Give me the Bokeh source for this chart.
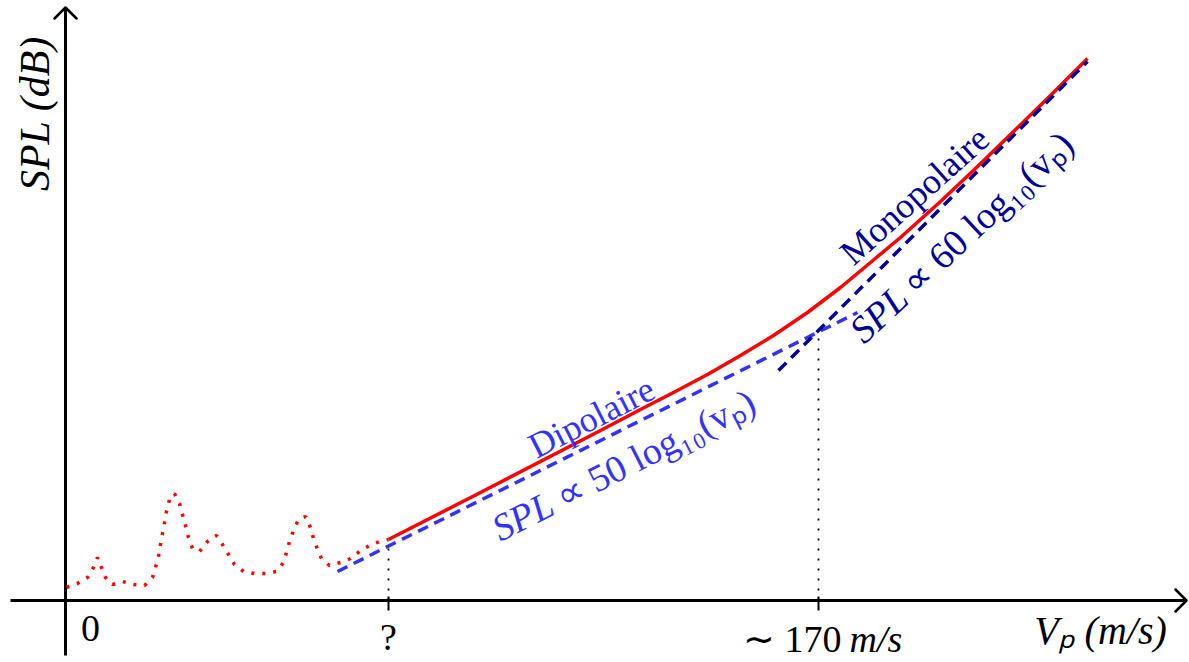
import math
from bokeh.plotting import figure
from bokeh.models import Range1d, Label
from bokeh.embed import file_html
from bokeh.resources import INLINE

# ---- data (1 unit = 1 px, origin where the axes cross) ----
noise_x = [1, 12, 22, 28, 32, 36, 40, 47, 57, 68, 79, 87, 90, 93, 95, 97, 99, 101, 104, 109,
           114, 117, 120, 123, 127, 134, 142, 151, 157, 163, 169, 178, 189, 200, 211, 218, 221,
           224, 228, 233, 240, 245, 248, 252, 256, 264, 275, 285, 294, 304, 314, 323]
noise_y = [13, 17, 23, 33, 43, 33, 23, 16, 19, 16, 15, 23, 33, 44, 56, 67, 78, 89, 101, 107,
           97, 86, 75, 63, 52, 49, 59, 65, 56, 46, 36, 29, 27, 27, 29, 38, 48, 59, 70, 81,
           84, 73, 62, 51, 42, 35, 38, 42, 49, 55, 59, 61]

spl_x = [323, 415, 535, 575, 608, 642, 675, 708, 742, 775, 805, 835, 875, 910, 945, 985, 1022]
spl_y = [61, 108, 170, 191, 208, 226, 245, 265, 288, 313, 338, 363, 399, 432, 466, 505, 542]

dip_x = [272, 792]
dip_y = [29, 288]

mono_x = [713, 1022]
mono_y = [230, 539]

tick_x = [323, 753]
tick_top = [53, 268]
tick_labels = ["?", "\u223c 170", "m/s"]

RED = "#ff0000"
LBLUE = "#3333ff"
DBLUE = "#000099"
FONT = "Liberation Serif"

p = figure(width=1189, height=662, x_range=Range1d(-65, 1124), y_range=Range1d(-62, 600),
           x_axis_location=None, y_axis_location=None, toolbar_location=None,
           output_backend="svg", min_border=0, outline_line_color=None,
           background_fill_color="white", border_fill_color="white")
p.grid.visible = False

# axes
p.line([-55, 1121], [0, 0], line_color="black", line_width=3)
p.line([0, 0], [-55, 593], line_color="black", line_width=3)
p.line([1110, 1121, 1110], [11, 0, -11], line_color="black", line_width=2.5,
       line_join="round", line_cap="round")
p.line([-11, 0, 11], [582, 593, 582], line_color="black", line_width=2.5,
       line_join="round", line_cap="round")

# ticks and guide lines
p.segment(x0=tick_x, y0=[-10, -10], x1=tick_x, y1=[4, 4], line_color="black", line_width=2)
p.segment(x0=tick_x, y0=[0, 0], x1=tick_x, y1=tick_top, line_color="black",
          line_width=1.8, line_dash="2 8")

# curves
p.line(noise_x, noise_y, line_color=RED, line_width=3.5, line_dash="3 8")
p.line(spl_x, spl_y, line_color=RED, line_width=3.5, line_join="round")
p.line(dip_x, dip_y, line_color=LBLUE, line_width=3.5, line_dash="11 7")
p.line(mono_x, mono_y, line_color=DBLUE, line_width=3.5, line_dash="11 7")

def lab(x, y, text, size, color="black", style="normal", angle=0.0, align="center",
        baseline="middle"):
    p.add_layout(Label(x=x, y=y, text=text, text_font=FONT, text_font_size=f"{size}px",
                       text_color=color, text_font_style=style, angle=angle,
                       text_align=align, text_baseline=baseline))

# axis labels
lab(-31, 487, "SPL (dB)", 42, style="italic", angle=math.pi / 2)
lab(1035, -30, "V\u209a (m/s)", 40, style="italic")
lab(25, -28, "0", 38)
lab(tick_x[0], -36, tick_labels[0], 38)
lab(776, -38, tick_labels[1], 38, align="right")
lab(784, -38, tick_labels[2], 38, style="italic", align="left")

# rotated annotations
w = 71
a1 = math.radians(27)
lab(526, 183, "Dipolaire", 36, color=LBLUE, angle=a1)
x0, y0 = 429, 70
lab(x0, y0, "SPL", 38, color=LBLUE, style="italic", angle=a1, align="left",
    baseline="alphabetic")
lab(x0 + w * math.cos(a1), y0 + w * math.sin(a1), "\u221d 50 log\u2081\u2080(v\u209a)", 38,
    color=LBLUE, angle=a1, align="left", baseline="alphabetic")

a2 = math.radians(43)
lab(849, 405, "Monopolaire", 36, color=DBLUE, angle=math.radians(42))
x0, y0 = 790, 265
lab(x0, y0, "SPL", 38, color=DBLUE, style="italic", angle=a2, align="left",
    baseline="alphabetic")
lab(x0 + w * math.cos(a2), y0 + w * math.sin(a2), "\u221d 60 log\u2081\u2080(v\u209a)", 38,
    color=DBLUE, angle=a2, align="left", baseline="alphabetic")

open("out.html", "w").write(file_html(p, INLINE))
